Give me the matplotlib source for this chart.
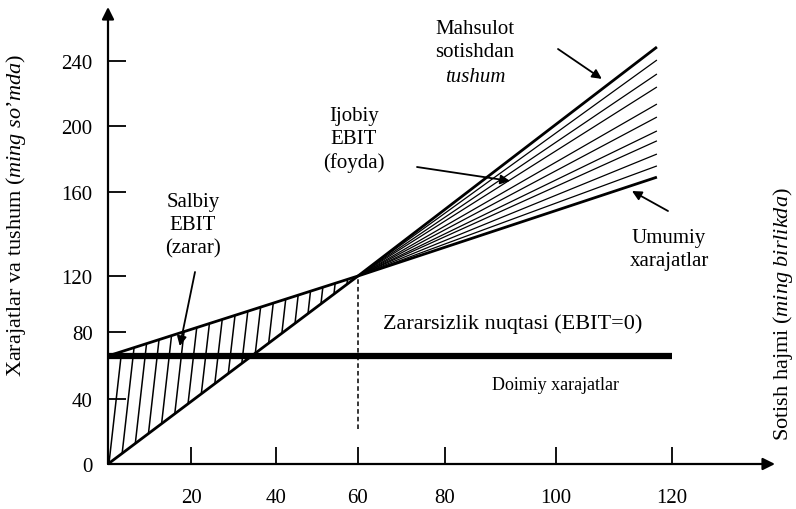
import numpy as np
import matplotlib
matplotlib.use("Agg")
import matplotlib.pyplot as plt
from matplotlib.collections import LineCollection
from matplotlib.patches import Polygon

plt.rcParams["font.family"] = ["Liberation Serif", "DejaVu Serif"]
plt.rcParams["mathtext.fontset"] = "custom"
plt.rcParams["mathtext.rm"] = "Liberation Serif"
plt.rcParams["mathtext.it"] = "Liberation Serif:italic"

# ============================================================
# MA'LUMOTLAR (rasmdan o'qilgan)
# ============================================================

hajm = [0, 60, 117.4]                 # sotish hajmi (ming birlik)
tushum = [0, 120, 248.6]              # mahsulot sotishdan tushum
umumiy_xarajat = [65.7, 120, 169]     # umumiy xarajatlar
doimiy_hajm = [0, 120]
doimiy_xarajat = [65.7, 65.7]         # doimiy xarajatlar

zararsizlik_x = 60
zararsizlik_y = 120
shtrix_past = 21.5                    # punktir chiziqning pastki uchi

# foyda zonasidagi chiziqlar (o'ng uchidagi qiymatlar)
foyda_chiziqlar = [240.6, 232, 224, 213.5, 205.5, 197, 191, 183, 175.8]

x_ticks = [20, 40, 60, 80, 100, 120]
y_ticks = [0, 40, 80, 120, 160, 200, 240]

# ============================================================
# SHKALA: skanerdagi o'qlar bir tekis bo'linmagan
# ============================================================

x_kalib = [0, 20, 40, 60, 80, 100, 120]
x_kalib_px = [108, 191, 276, 358, 445, 556, 672]
y_kalib = [0, 40, 80, 120, 160, 200, 240]
y_kalib_px = [-465, -400, -333, -277, -193, -127, -62]

W, H = 796, 510


def bolakli(src, dst):
    src = np.asarray(src, float)
    dst = np.asarray(dst, float)
    k0 = (dst[1] - dst[0]) / (src[1] - src[0])
    k1 = (dst[-1] - dst[-2]) / (src[-1] - src[-2])

    def f(v):
        v = np.asarray(v, float)
        out = np.interp(v, src, dst)
        out = np.where(v < src[0], dst[0] + (v - src[0]) * k0, out)
        out = np.where(v > src[-1], dst[-1] + (v - src[-1]) * k1, out)
        return out
    return f


def px(x, y):
    # piksel -> axes fraction (o'qlar butun rasmni egallaydi)
    return (x / W, 1 - y / H)


fig = plt.figure(figsize=(W / 100, H / 100), dpi=100)
ax = fig.add_axes([0, 0, 1, 1])

fx, fx_inv = bolakli(x_kalib, x_kalib_px), bolakli(x_kalib_px, x_kalib)
fy, fy_inv = bolakli(y_kalib, y_kalib_px), bolakli(y_kalib_px, y_kalib)
ax.set_xscale("function", functions=(fx, fx_inv))
ax.set_yscale("function", functions=(fy, fy_inv))
ax.set_xlim(float(fx_inv(0)), float(fx_inv(W)))
ax.set_ylim(float(fy_inv(-H)), float(fy_inv(0)))

# ============================================================
# CHIZIQLAR
# ============================================================

ax.plot(hajm, tushum, color="black", lw=2.0, solid_capstyle="butt")
ax.plot(hajm, umumiy_xarajat, color="black", lw=2.0, solid_capstyle="butt")
ax.plot(doimiy_hajm, doimiy_xarajat, color="black", lw=4.5, solid_capstyle="butt")

ax.plot([zararsizlik_x, zararsizlik_x], [shtrix_past, zararsizlik_y],
        color="black", lw=1.1, ls=(0, (3, 2)))

# foyda zonasi: yelpig'ich chiziqlar
seg = [[(zararsizlik_x, zararsizlik_y), (hajm[-1], y)] for y in foyda_chiziqlar]
ax.add_collection(LineCollection(seg, colors="black", linewidths=0.9))

# zarar zonasi: shtrixlash
uchburchak = Polygon([(0, 0), (zararsizlik_x, zararsizlik_y), (0, umumiy_xarajat[0])],
                     closed=True, facecolor="none", edgecolor="none",
                     transform=ax.transData)
ax.add_patch(uchburchak)
shtrix = [[(x0, -5), (x0 + 0.045 * 150, 145)] for x0 in np.arange(0, 60, 2.9)]
lc = LineCollection(shtrix, colors="black", linewidths=1.1)
ax.add_collection(lc)
lc.set_clip_path(uchburchak)

# ============================================================
# O'QLAR
# ============================================================

for s in ax.spines.values():
    s.set_visible(False)
ax.spines["left"].set_position(("data", 0))
ax.spines["bottom"].set_position(("data", 0))

ax.set_xticks(x_ticks)
ax.set_yticks(y_ticks)
ax.tick_params(axis="y", direction="in", length=13, width=1.3, pad=11, labelsize=15)
ax.tick_params(axis="x", direction="in", length=12, width=1.3, pad=17, labelsize=15)

strelka = dict(arrowstyle="-|>", color="black", lw=1.6, mutation_scale=18,
               shrinkA=0, shrinkB=0)
ax.annotate("", xy=px(108, 8), xycoords="axes fraction",
            xytext=(0, 0), textcoords="data", arrowprops=strelka)
ax.annotate("", xy=px(775, 465), xycoords="axes fraction",
            xytext=(0, 0), textcoords="data", arrowprops=strelka)

ax.text(*px(16, 215), "Xarajatlar va tushum ($\\mathit{ming\\ so’mda}$)",
        transform=ax.transAxes, rotation=90, ha="center", va="center", fontsize=16)
ax.text(*px(783, 314), "Sotish hajmi ($\\mathit{ming\\ birlikda}$)",
        transform=ax.transAxes, rotation=90, ha="center", va="center", fontsize=16)

# ============================================================
# YOZUVLAR VA STRELKALAR
# ============================================================

kich = dict(arrowstyle="-|>", color="black", lw=1.3, mutation_scale=14,
            shrinkA=0, shrinkB=0)
yoz = dict(transform=ax.transAxes, ha="center", va="center", fontsize=15,
           linespacing=1.3)

ax.text(*px(475, 41), "Mahsulot\nsotishdan", **yoz)
ax.text(*px(475, 77), "tushum", style="italic", **yoz)
ax.annotate("", xy=(107.9, 229), xytext=px(558, 50),
            textcoords="axes fraction", arrowprops=kich)

ax.text(*px(354, 140), "Ijobiy\nEBIT\n(foyda)", **yoz)
ax.annotate("", xy=(91.7, 166.7), xytext=px(417, 168),
            textcoords="axes fraction", arrowprops=kich)

ax.text(*px(193, 226), "Salbiy\nEBIT\n(zarar)", **yoz)
ax.annotate("", xy=(17.3, 71.6), xytext=px(195, 273),
            textcoords="axes fraction", arrowprops=kich)

ax.text(*px(669, 250), "Umumiy\nxarajatlar", **yoz)
ax.annotate("", xy=(113.1, 160.6), xytext=px(668, 212),
            textcoords="axes fraction", arrowprops=kich)

ax.text(*px(513, 324), "Zararsizlik nuqtasi (EBIT=0)", transform=ax.transAxes,
        ha="center", va="center", fontsize=16)
ax.text(*px(555, 386), "Doimiy xarajatlar", transform=ax.transAxes,
        ha="center", va="center", fontsize=13)

fig.savefig("out.png", dpi=100)
